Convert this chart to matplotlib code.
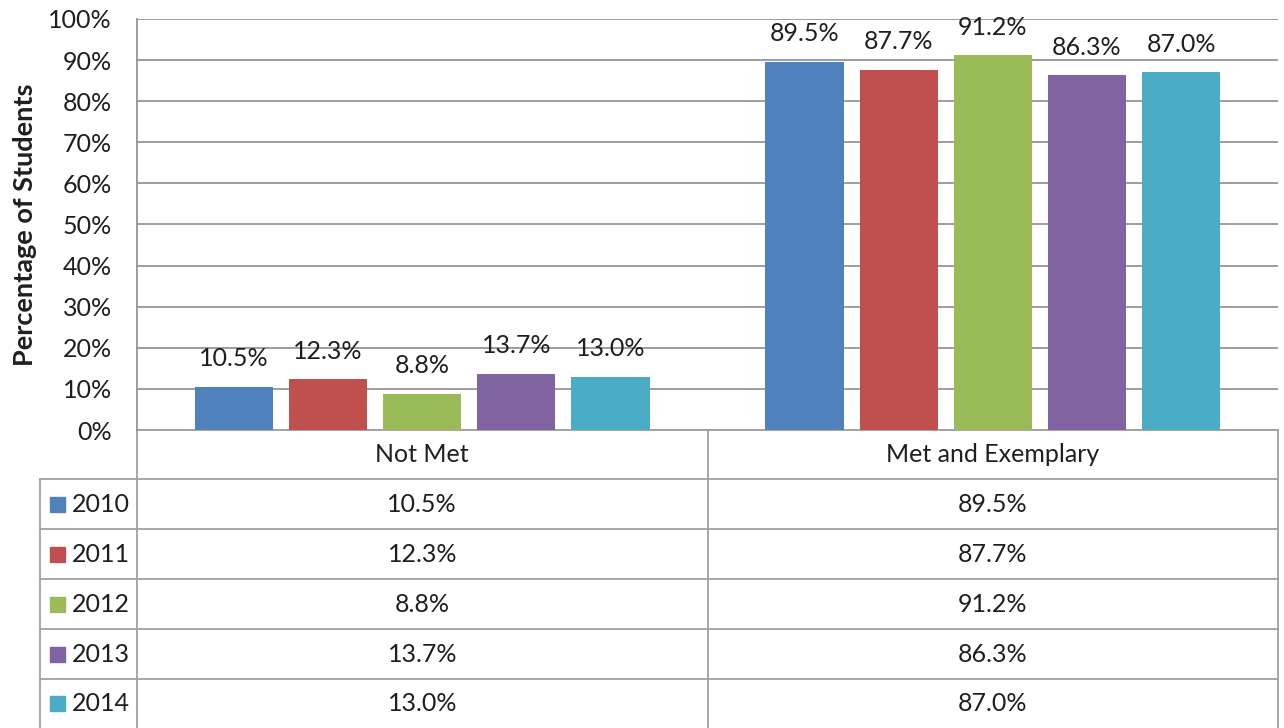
import numpy as np
import matplotlib
matplotlib.use("Agg")
import matplotlib.pyplot as plt

plt.rcParams['font.family'] = ['Lato', 'DejaVu Sans']

categories = ["Not Met", "Met and Exemplary"]
years = ["2010", "2011", "2012", "2013", "2014"]
not_met = [10.5, 12.3, 8.8, 13.7, 13.0]
met_exemplary = [89.5, 87.7, 91.2, 86.3, 87.0]
colors = ["#4F81BD", "#C0504D", "#9BBB59", "#8064A2", "#4BACC6"]
yticks = [0, 10, 20, 30, 40, 50, 60, 70, 80, 90, 100]

W, H = 1284, 728
fig = plt.figure(figsize=(W / 100, H / 100), dpi=100)

# pixel layout of the plot area
left, right, top, base = 137, 1278, 19, 430
ax = fig.add_axes([left / W, 1 - base / H, (right - left) / W, (base - top) / H])

text_col = "#1F1F1F"
grid_col = "#8C8C8C"
line_col = "#A0A0A0"
fs = 18

x = np.arange(len(categories))
width = 0.137
step = 0.165
for i, yr in enumerate(years):
    vals = [not_met[i], met_exemplary[i]]
    bars = ax.bar(x + (i - 2) * step, vals, width, color=colors[i], zorder=3)
    for b, v in zip(bars, vals):
        ax.annotate(f"{v:.1f}%", (b.get_x() + b.get_width() / 2, v),
                    xytext=(0, 12), textcoords="offset points",
                    ha="center", va="bottom", fontsize=fs, color=text_col)

ax.set_xlim(-0.5, 1.5)
ax.set_ylim(0, 100)
ax.set_yticks(yticks)
ax.set_yticklabels([f"{t}%" for t in yticks], fontsize=fs, color=text_col)
ax.tick_params(axis="y", length=0, pad=18)
ax.set_xticks([])
ax.grid(axis="y", color=grid_col, linewidth=1.2, zorder=0)
for s in ["top", "right", "bottom"]:
    ax.spines[s].set_visible(False)
ax.spines["left"].set_color(grid_col)
ax.spines["left"].set_linewidth(1.2)
ax.set_ylabel("Percentage of Students", fontsize=19.5, fontweight="bold",
              color=text_col, labelpad=8)

# data table below the chart, drawn in pixel coordinates
tb = fig.add_axes([0, 0, 1, 1], zorder=-1)
tb.set_xlim(0, W)
tb.set_ylim(H, 0)
tb.axis("off")

tab_left = 40
mid = (left + right) / 2
row_edges = [430, 479, 529, 579, 629, 679, 728]
lw = 1.3
tb.plot([left, right], [row_edges[0]] * 2, color=line_col, lw=lw)
for yy in row_edges[1:-1]:
    tb.plot([tab_left, right], [yy, yy], color=line_col, lw=lw)
tb.plot([tab_left, tab_left], [row_edges[1], H], color=line_col, lw=lw)
tb.plot([left, left], [row_edges[0], H], color=line_col, lw=lw)
tb.plot([mid, mid], [row_edges[0], H], color=line_col, lw=lw)
tb.plot([right, right], [row_edges[0], H], color=line_col, lw=lw)

col_centers = [(left + mid) / 2, (mid + right) / 2]
yc = (row_edges[0] + row_edges[1]) / 2
for cx, cat in zip(col_centers, categories):
    tb.text(cx, yc, cat, ha="center", va="center", fontsize=fs, color=text_col)

for i, yr in enumerate(years):
    yc = (row_edges[i + 1] + row_edges[i + 2]) / 2
    tb.add_patch(plt.Rectangle((50, yc - 7.5), 15, 15, color=colors[i]))
    tb.text(72, yc, yr, ha="left", va="center", fontsize=fs, color=text_col)
    for cx, v in zip(col_centers, [not_met[i], met_exemplary[i]]):
        tb.text(cx, yc, f"{v:.1f}%", ha="center", va="center",
                fontsize=fs, color=text_col)

fig.savefig("out.png", dpi=100, facecolor="white")
